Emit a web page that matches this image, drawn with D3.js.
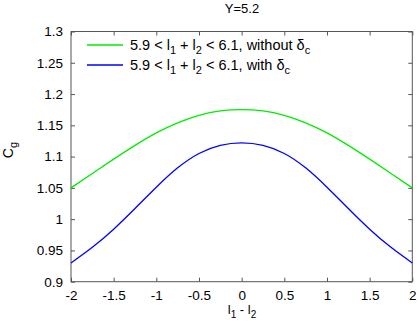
<!DOCTYPE html>
<html>
<head>
<meta charset="utf-8">
<script src="https://cdn.jsdelivr.net/npm/d3@7"></script>
<style>
  body { margin: 0; background: #fff; }
  text { font-family: "Liberation Sans", Arial, sans-serif; }
</style>
</head>
<body>
<svg width="419" height="327"></svg>
<script>
// values (symmetric around 0)
const xVals = [-2, -1.75, -1.5, -1.25, -1, -0.75, -0.5, -0.25, 0, 0.25, 0.5, 0.75, 1, 1.25, 1.5, 1.75, 2]
const withoutDelta = [1.05, 1.073, 1.096, 1.118, 1.138, 1.154, 1.166, 1.173, 1.175, 1.173, 1.166, 1.154, 1.138, 1.118, 1.096, 1.073, 1.05]
const withDelta = [0.93, 0.955, 0.984, 1.017, 1.051, 1.082, 1.105, 1.118, 1.122, 1.118, 1.105, 1.082, 1.051, 1.017, 0.984, 0.955, 0.93]
const xTicks = [-2, -1.5, -1, -0.5, 0, 0.5, 1, 1.5, 2]
const yTicks = [0.9, 0.95, 1, 1.05, 1.1, 1.15, 1.2, 1.25, 1.3]
const seriesNames = ['without', 'with']

const svg = d3.select('svg')
const m = {left: 71, right: 412.3, top: 31.5, bottom: 281.7}

const x = d3.scaleLinear().domain([-2, 2]).range([m.left, m.right])
const y = d3.scaleLinear().domain([0.9, 1.3]).range([m.bottom, m.top])
const color = d3.scaleOrdinal().domain(seriesNames).range(['#00ee00', '#0000ff'])

const axisColor = '#555'

function styleAxis(g) {
    g.select('.domain').remove()
    g.selectAll('.tick line').attr('stroke', axisColor)
    g.selectAll('.tick text').attr('fill', '#000').style('font-size', '13.5px')
        .style('font-family', '"Liberation Sans", Arial, sans-serif')
}

svg.append('g').attr('transform', `translate(0,${m.bottom})`)
    .call(d3.axisBottom(x).tickValues(xTicks).tickSize(-4).tickPadding(9).tickFormat(d => String(d)))
    .call(styleAxis)
svg.append('g').attr('transform', `translate(0,${m.top})`)
    .call(d3.axisTop(x).tickValues(xTicks).tickSize(-4).tickFormat(''))
    .call(styleAxis)
svg.append('g').attr('transform', `translate(${m.left},0)`)
    .call(d3.axisLeft(y).tickValues(yTicks).tickSize(-4).tickPadding(8).tickFormat(d => String(d)))
    .call(styleAxis)
svg.append('g').attr('transform', `translate(${m.right},0)`)
    .call(d3.axisRight(y).tickValues(yTicks).tickSize(-4).tickFormat(''))
    .call(styleAxis)

// frame
svg.append('rect')
    .attr('x', m.left).attr('y', m.top)
    .attr('width', m.right - m.left).attr('height', m.bottom - m.top)
    .attr('fill', 'none').attr('stroke', axisColor).attr('stroke-width', 1)

const line = d3.line()
    .x((d, i) => x(xVals[i]))
    .y(d => y(d))
    .curve(d3.curveNatural)

const series = [
    {name: 'without', values: withoutDelta},
    {name: 'with', values: withDelta}
]

svg.append('g').selectAll('path')
    .data(series)
    .join('path')
    .attr('d', d => line(d.values))
    .attr('fill', 'none')
    .attr('stroke', d => color(d.name))
    .attr('stroke-width', 1.3)

// helper for text with subscripts: parts = [[text, isSub], ...]
function richText(sel, parts, size) {
    parts.forEach(([t, sub], i) => {
        const prevSub = i > 0 && parts[i - 1][1]
        let dy = 0
        if (sub && !prevSub) dy = 4
        if (!sub && prevSub) dy = -4
        sel.append('tspan').attr('dy', dy)
            .style('font-size', sub ? Math.round(size * 0.78) + 'px' : size + 'px')
            .text(t)
    })
}

// legend
const legend = svg.append('g')
const legendText = {
    without: [['5.9 < l', 0], ['1', 1], [' + l', 0], ['2', 1], [' < 6.1, without δ', 0], ['c', 1]],
    with: [['5.9 < l', 0], ['1', 1], [' + l', 0], ['2', 1], [' < 6.1, with δ', 0], ['c', 1]]
}
series.forEach((s, i) => {
    const ly = 45 + i * 20
    legend.append('line')
        .attr('x1', 87).attr('x2', 123).attr('y1', ly).attr('y2', ly)
        .attr('stroke', color(s.name)).attr('stroke-width', 1.3)
    legend.append('text').attr('x', 130).attr('y', ly + 5)
        .call(t => richText(t, legendText[s.name], 14.5))
})

// title and axis labels
svg.append('text').attr('x', 242).attr('y', 13).attr('text-anchor', 'middle')
    .style('font-size', '13px').text('Y=5.2')

svg.append('text').attr('x', 242).attr('y', 314).attr('text-anchor', 'middle')
    .call(t => richText(t, [['l', 0], ['1', 1], [' - l', 0], ['2', 1]], 13))

svg.append('text').attr('transform', 'translate(13,150) rotate(-90)').attr('text-anchor', 'middle')
    .call(t => richText(t, [['C', 0], ['g', 1]], 14))
</script>
</body>
</html>
